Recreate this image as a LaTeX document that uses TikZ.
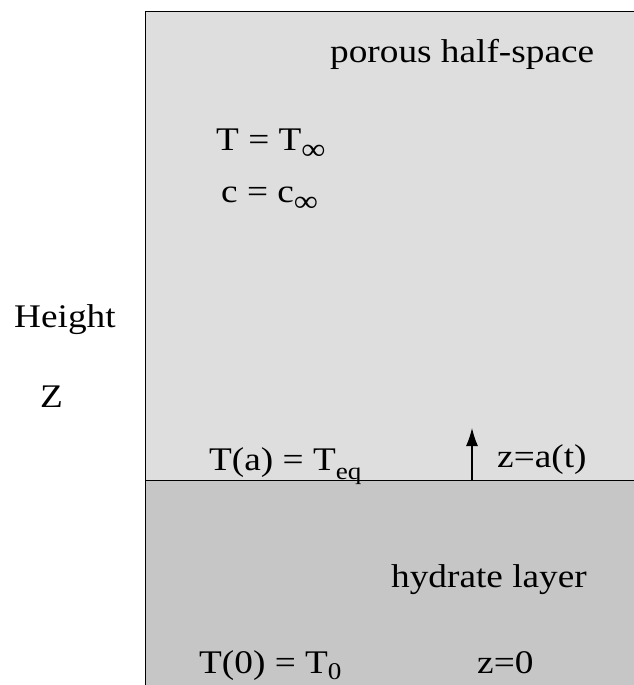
\documentclass[tikz,border=0pt]{standalone}
\usepackage{fontspec}
\usetikzlibrary{arrows.meta}
\setmainfont{Liberation Serif}[FakeStretch=1.13]
\newcommand\lbl[2][-9pt]{\raisebox{#1}{\fontsize{24}{24}\selectfont #2}}
\newcommand\inflbl{\raisebox{-9pt}{\fontsize{30}{30}\selectfont ∞}}
\begin{document}
\begin{tikzpicture}[x=1pt,y=-1pt,
  txt/.style={anchor=base west,inner sep=0pt,font=\fontsize{33}{36}\selectfont}]
\useasboundingbox (0,0) rectangle (634,685);
% regions
\fill[gray!26] (145,12) rectangle (634,480);
\fill[gray!45] (145,480) rectangle (634,685);
\draw[line width=1pt] (145,685) -- (145,12) -- (634,12);
\coordinate (iL) at (145,480);
\coordinate (iR) at (634,480);
\draw[line width=0.9pt] (iL) -- (iR);
% texts
\node[txt] (phs) at (330,63) {porous half-space};
\node[txt] (tinf) at (216,150) {T = T\inflbl};
\node[txt] (cinf) at (221,202) {c = c\inflbl};
\node[txt] (h) at (14,327) {Height};
\node[txt] (z) at (40,407) {Z};
\node[txt] (teq) at (209,470) {T(a) = T\lbl{eq}};
\node[txt] (za) at (497,467) {z=a(t)};
\node[txt] (hl) at (391,587) {hydrate layer};
\node[txt] (t0) at (199,673) {T(0) = T\lbl[-6pt]{0}};
\node[txt] (z0) at (477,673) {z=0};
% arrow
\coordinate (aB) at (472,480);
\coordinate (aT) at (472,428);
\draw[line width=1.2pt,-{Latex[length=18pt,width=12pt]}] (aB) -- (aT);
\end{tikzpicture}
\end{document}
